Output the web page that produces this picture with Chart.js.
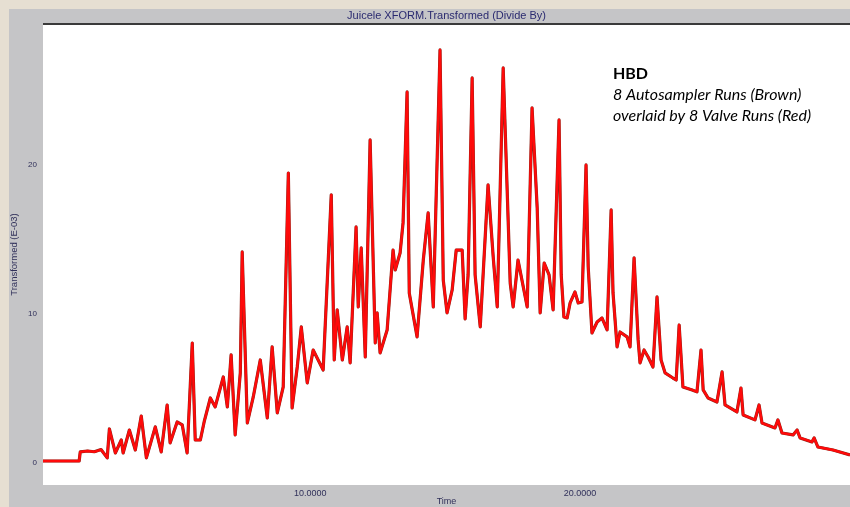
<!DOCTYPE html>
<html>
<head>
<meta charset="utf-8">
<script src="https://cdn.jsdelivr.net/npm/chart.js@4.4.1/dist/chart.umd.min.js"></script>
<style>
    html, body { margin: 0; padding: 0; background: #e6dfd2; }
    canvas { display: block; }
</style>
</head>
<body>
<canvas id="hbdChart" width="850" height="507"></canvas>
<script>
// =======================
// Data
// =======================

const timeValues = [
    0.1, 1.44, 1.48, 1.75, 2.0, 2.25, 2.48, 2.56, 2.78, 3.0, 3.07, 3.30, 3.52, 3.74, 3.93,
    4.26, 4.48, 4.70, 4.81, 5.07, 5.26, 5.44, 5.63, 5.74, 5.93, 6.07, 6.30, 6.48, 6.78, 6.93,
    7.07, 7.22, 7.41, 7.48, 7.67, 7.89, 8.15, 8.41, 8.59, 8.78, 9.0, 9.19, 9.33, 9.52, 9.67,
    9.89, 10.11, 10.48, 10.78, 10.89, 11.0, 11.19, 11.37, 11.48, 11.70, 11.78, 11.89, 12.04,
    12.22, 12.41, 12.48, 12.59, 12.85, 13.07, 13.15, 13.33, 13.44, 13.59, 13.67, 13.96, 14.19,
    14.37, 14.56, 14.81, 14.93, 15.07, 15.26, 15.41, 15.63, 15.74, 15.85, 16.0, 16.11, 16.30,
    16.59, 16.78, 16.93, 17.15, 17.41, 17.52, 17.70, 18.04, 18.22, 18.41, 18.52, 18.67, 18.85,
    19.0, 19.22, 19.30, 19.40, 19.52, 19.63, 19.81, 19.93, 20.07, 20.22, 20.30, 20.44, 20.63,
    20.81, 21.0, 21.15, 21.22, 21.37, 21.48, 21.74, 21.85, 22.0, 22.15, 22.22, 22.37, 22.52,
    22.70, 22.85, 23.0, 23.15, 23.44, 23.56, 23.67, 23.81, 24.15, 24.33, 24.48, 24.56, 24.74,
    25.07, 25.26, 25.37, 25.81, 25.96, 26.04, 26.48, 26.63, 26.74, 27.22, 27.33, 27.48, 27.89,
    28.04, 28.15, 28.59, 28.67, 28.81, 29.37, 30.0
];

const signalValues = [
    0.13, 0.13, 0.74, 0.8, 0.75, 0.9, 0.34, 2.28, 0.67, 1.54, 0.67, 2.21, 0.87, 3.15, 0.34,
    2.42, 0.74, 3.89, 1.34, 2.75, 2.55, 0.67, 8.05, 1.54, 1.54, 2.75, 4.36, 3.76, 5.77, 3.76,
    7.25, 1.88, 6.04, 14.16, 2.68, 4.43, 6.91, 3.02, 7.79, 3.36, 5.10, 19.46, 3.69, 6.44, 9.13,
    5.37, 7.58, 6.24, 17.99, 6.91, 10.27, 6.91, 9.13, 6.71, 15.84, 10.47, 14.43, 7.11,
    21.68, 8.05, 10.07, 7.38, 8.92, 14.29, 12.95, 14.09, 16.11, 24.9, 11.41, 8.46, 13.62,
    16.78, 10.47, 27.72, 12.28, 10.07, 11.61, 14.29, 14.29, 9.66, 12.62, 25.84, 12.62, 9.13,
    18.66, 13.83, 10.47, 26.51, 12.08, 10.47, 13.62, 10.47, 23.83, 17.11, 10.07, 13.42, 12.62,
    10.27, 23.02, 12.62, 9.8, 9.73, 10.74, 11.48, 10.74, 10.81, 20.0, 13.15, 8.72, 9.46,
    9.73, 8.93, 16.98, 11.41, 7.79, 8.79, 8.46, 7.79, 13.76, 8.26, 6.71, 7.58, 7.11,
    6.44, 11.14, 6.91, 6.04, 5.70, 5.57, 9.26, 5.10, 4.90, 4.77, 7.58, 4.90, 4.36,
    4.09, 6.11, 3.89, 3.42, 5.03, 3.22, 2.89, 3.89, 2.68, 2.35, 2.89, 2.01, 1.88,
    2.21, 1.68, 1.41, 1.68, 1.07, 0.87, 0.54
];

const xTickValues = [10, 20];
const yTickValues = [0, 10, 20];

const chartTitle = "Juicele XFORM.Transformed (Divide By)";
const noteLines = ["HBD", "8 Autosampler Runs (Brown)", "overlaid by 8 Valve Runs (Red)"];

const tracePoints = timeValues.map((t, i) => ({ x: t, y: signalValues[i] }));

const smallFont = "'Liberation Sans', Arial, sans-serif";

// =======================
// Frame + notes plugin
// =======================

const framePlugin = {

    id: "frame",

    beforeDraw(chart) {

        const ctx = chart.ctx;
        const area = chart.chartArea;

        ctx.save();

        ctx.fillStyle = "#e6dfd2";
        ctx.fillRect(0, 0, chart.width, chart.height);

        ctx.fillStyle = "#c5c5c7";
        ctx.fillRect(9, 9, chart.width - 9, chart.height - 9);

        ctx.fillStyle = "#ffffff";
        ctx.fillRect(area.left, area.top, area.right - area.left, area.bottom - area.top);

        ctx.fillStyle = "#3a3a3a";
        ctx.fillRect(area.left, area.top - 1, area.right - area.left, 2);

        ctx.restore();

    },

    afterDraw(chart) {

        const ctx = chart.ctx;
        const area = chart.chartArea;

        ctx.save();

        ctx.fillStyle = "#2a2a70";
        ctx.font = "11px " + smallFont;
        ctx.textAlign = "center";
        ctx.textBaseline = "middle";
        ctx.fillText(chartTitle, (area.left + area.right) / 2, 16);

        ctx.fillStyle = "#000000";
        ctx.textAlign = "left";
        ctx.textBaseline = "alphabetic";
        ctx.font = "bold 16px Lato, 'Open Sans', sans-serif";
        ctx.fillText(noteLines[0], 613, 79);
        ctx.font = "italic 16px Lato, 'Open Sans', sans-serif";
        ctx.fillText(noteLines[1], 613, 100);
        ctx.fillText(noteLines[2], 613, 121);

        ctx.restore();

    }

};

// =======================
// Chart
// =======================

const hbdCanvas = document.getElementById("hbdChart");

new Chart(hbdCanvas, {

    type: "line",

    data: {

        datasets: [{

            label: "Valve Runs",

            data: tracePoints,

            borderColor: "#ff0a0a",

            borderWidth: 2.4,

            borderJoinStyle: "round",

            pointRadius: 0,

            tension: 0,

            order: 1

        }, {

            label: "Autosampler Runs",

            data: tracePoints,

            borderColor: "#8a2418",

            borderWidth: 3.2,

            borderJoinStyle: "round",

            pointRadius: 0,

            tension: 0,

            order: 2

        }]

    },

    options: {

        responsive: false,

        animation: false,

        devicePixelRatio: 1,

        layout: {

            padding: { left: 9, top: 24, right: 0, bottom: 0 }

        },

        plugins: {

            legend: { display: false },

            tooltip: { enabled: false }

        },

        scales: {

            x: {

                type: "linear",

                min: 0.1,

                max: 30,

                grid: { display: false, drawTicks: false },

                border: { display: false },

                afterBuildTicks: scale => {
                    scale.ticks = xTickValues.map(v => ({ value: v }));
                },

                afterFit: scale => {
                    scale.height = 22;
                },

                ticks: {

                    color: "#30305a",

                    font: { size: 9, family: smallFont },

                    padding: 3,

                    maxRotation: 0,

                    callback: v => v.toFixed(4)

                },

                title: {

                    display: true,

                    text: "Time",

                    color: "#30305a",

                    font: { size: 9, family: smallFont },

                    padding: { top: 0, bottom: 0 }

                }

            },

            y: {

                min: -1.48,

                max: 29.46,

                grid: { display: false, drawTicks: false },

                border: { display: false },

                afterBuildTicks: scale => {
                    scale.ticks = yTickValues.map(v => ({ value: v }));
                },

                afterFit: scale => {
                    scale.width = 34;
                },

                ticks: {

                    color: "#30305a",

                    font: { size: 8, family: smallFont },

                    padding: 6

                },

                title: {

                    display: true,

                    text: "Transformed (E-03)",

                    color: "#30305a",

                    font: { size: 9.5, family: smallFont },

                    padding: { top: 0, bottom: 0 }

                }

            }

        }

    },

    plugins: [framePlugin]

});
</script>
</body>
</html>
